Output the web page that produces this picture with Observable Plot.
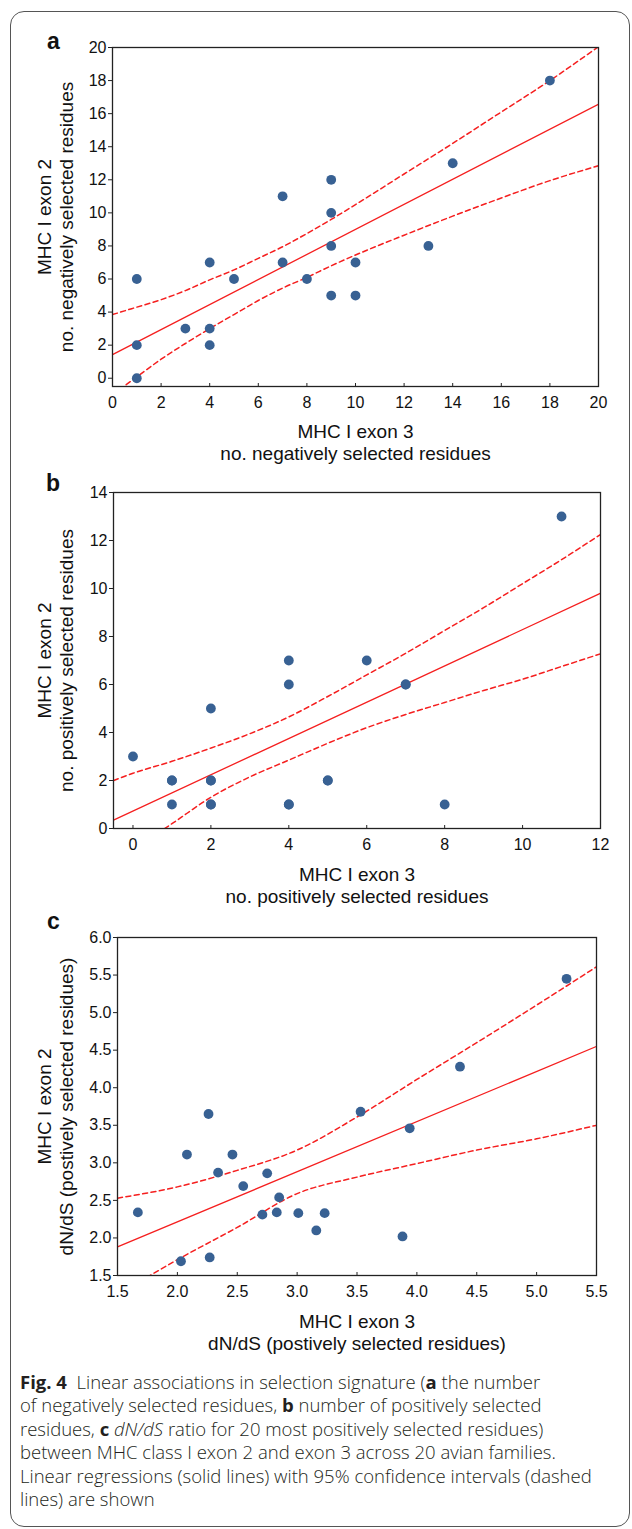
<!DOCTYPE html>
<html><head><meta charset="utf-8">
<script src="https://cdn.jsdelivr.net/npm/d3@7"></script>
<script src="https://cdn.jsdelivr.net/npm/@observablehq/plot@0.6"></script>
<style>
body{margin:0;background:#fff;}
#page{position:relative;width:632px;height:1529px;overflow:hidden;font-family:"Liberation Sans",Arial,sans-serif;background:#fff;}
#border{position:absolute;left:10px;top:11px;width:620px;height:1516px;box-sizing:border-box;border:1.3px solid #555;border-radius:14px;}
.panel{position:absolute;left:0;}
.letter{position:absolute;font-weight:bold;font-size:23px;line-height:1;color:#111;}
#caption{position:absolute;left:20px;top:1370px;font-family:"Open Sans",sans-serif;font-weight:300;font-size:18.5px;line-height:23.4px;color:#231f20;white-space:nowrap;}
#caption b{font-weight:700;}
</style></head><body>
<div id="page">
<div id="border"></div>
<div class="letter" style="left:47px;top:30px">a</div>
<div class="letter" style="left:46px;top:472px">b</div>
<div class="letter" style="left:47px;top:910px">c</div>
<div id="panelA" class="panel" style="top:0px"></div>
<div id="panelB" class="panel" style="top:445px"></div>
<div id="panelC" class="panel" style="top:890px"></div>
<div id="caption"><b>Fig. 4</b>&nbsp; Linear associations in selection signature (<b>a</b> the number<br>of negatively selected residues, <b>b</b> number of positively selected<br>residues, <b>c</b> <i>dN/dS</i> ratio for 20 most positively selected residues)<br>between MHC class I exon 2 and exon 3 across 20 avian families.<br>Linear regressions (solid lines) with 95% confidence intervals (dashed<br>lines) are shown</div>
</div>
<script>
// ---------- Panel a: negatively selected residues ----------
const aExon3 = [1, 1, 1, 3, 4, 4, 4, 5, 7, 7, 8, 9, 9, 9, 9, 10, 10, 13, 14, 18];
const aExon2 = [0, 2, 6, 3, 3, 2, 7, 6, 7, 11, 6, 12, 10, 8, 5, 7, 5, 8, 13, 18];
const aFitX = [0, 20];
const aFitY = [1.43, 16.57];
const aBandX = [0, 1, 2, 3, 4, 5, 6, 7, 8, 9, 10, 12, 14, 16, 18, 20];
const aUpper = [3.85, 4.3, 4.75, 5.3, 5.95, 6.55, 7.25, 7.95, 8.75, 9.6, 10.5, 12.35, 14.2, 16.1, 18.0, 20.05];
const aLower = [-1.0, 0.08, 1.15, 2.1, 3.0, 3.85, 4.7, 5.45, 6.1, 6.8, 7.45, 8.65, 9.8, 10.9, 11.95, 12.85];
const aXTicks = [0, 2, 4, 6, 8, 10, 12, 14, 16, 18, 20];
const aYTicks = [0, 2, 4, 6, 8, 10, 12, 14, 16, 18, 20];

// ---------- Panel b: positively selected residues ----------
const bExon3 = [0, 1, 1, 1, 2, 2, 2, 2, 2, 4, 4, 4, 4, 5, 5, 6, 7, 7, 8, 11];
const bExon2 = [3, 2, 2, 1, 2, 2, 1, 1, 5, 7, 6, 1, 1, 2, 2, 7, 6, 6, 1, 13];
const bFitX = [-0.5, 12];
const bFitY = [0.35, 9.8];
const bBandX = [-0.5, 0, 1, 2, 3, 4, 5, 6, 7, 8, 9, 10, 11, 12];
const bUpper = [2.0, 2.3, 2.8, 3.35, 3.95, 4.65, 5.5, 6.4, 7.3, 8.25, 9.2, 10.2, 11.2, 12.25];
const bLower = [-1.3, -0.85, 0.2, 1.3, 2.15, 2.85, 3.55, 4.2, 4.75, 5.25, 5.75, 6.22, 6.75, 7.28];
const bXTicks = [0, 2, 4, 6, 8, 10, 12];
const bYTicks = [0, 2, 4, 6, 8, 10, 12, 14];

// ---------- Panel c: dN/dS ----------
const cExon3 = [1.67, 2.03, 2.08, 2.26, 2.27, 2.34, 2.46, 2.55, 2.71, 2.75, 2.83, 2.85, 3.01, 3.16, 3.23, 3.53, 3.88, 3.94, 4.36, 5.25];
const cExon2 = [2.34, 1.69, 3.11, 3.65, 1.74, 2.87, 3.11, 2.69, 2.31, 2.86, 2.34, 2.54, 2.33, 2.10, 2.33, 3.68, 2.02, 3.46, 4.28, 5.45];
const cFitX = [1.5, 5.5];
const cFitY = [1.88, 4.55];
const cBandX = [1.5, 2.0, 2.5, 3.0, 3.5, 4.0, 4.5, 5.0, 5.5];
const cUpper = [2.53, 2.68, 2.9, 3.17, 3.61, 4.11, 4.6, 5.1, 5.61];
const cLower = [1.24, 1.71, 2.14, 2.59, 2.81, 2.99, 3.17, 3.32, 3.5];
const cXTicks = [1.5, 2.0, 2.5, 3.0, 3.5, 4.0, 4.5, 5.0, 5.5];
const cYTicks = [1.5, 2.0, 2.5, 3.0, 3.5, 4.0, 4.5, 5.0, 5.5, 6.0];

const RED = "#f51f1f";
const BLUE = "#386193";
const FONT = "Liberation Sans, Arial, sans-serif";

function panel(o) {
  const pts = o.px.map((x, i) => ({x, y: o.py[i]}));
  const fit = o.fx.map((x, i) => ({x, y: o.fy[i]}));
  const band = o.bx.map((x, i) => ({x, u: o.bu[i], l: o.bl[i]}));
  return Plot.plot({
    width: 632,
    height: o.height,
    marginLeft: o.ml, marginRight: o.mr, marginTop: o.mt, marginBottom: o.mb,
    style: {fontFamily: FONT, fontSize: "16px", color: "#111", background: "transparent", overflow: "visible"},
    x: {domain: o.xd, ticks: o.xt, tickFormat: o.fmt},
    y: {domain: o.yd, ticks: o.yt, tickFormat: o.fmt},
    marks: [
      Plot.line(fit, {x: "x", y: "y", stroke: RED, strokeWidth: 1.3, clip: true}),
      Plot.line(band, {x: "x", y: "u", stroke: RED, strokeWidth: 1.5, strokeDasharray: "5,3.5", curve: "monotone-x", clip: true}),
      Plot.line(band, {x: "x", y: "l", stroke: RED, strokeWidth: 1.5, strokeDasharray: "5,3.5", curve: "monotone-x", clip: true}),
      Plot.dot(pts, {x: "x", y: "y", r: 4.9, fill: BLUE, stroke: "none"}),
      Plot.frame({stroke: "#222", strokeWidth: 1.3}),
      Plot.axisX({ticks: o.xt, tickFormat: o.fmt, tickSize: -3, tickPadding: 13, fontSize: 16, label: null, stroke: "#222"}),
      Plot.axisY({ticks: o.yt, tickFormat: o.fmt, tickSize: 4, tickPadding: 2, fontSize: 16, label: null, stroke: "#222"}),
      Plot.text([o.xlabel], {frameAnchor: "bottom", dy: o.xdy, lineAnchor: "middle", textAnchor: "middle", fontSize: 19, lineHeight: 1.16, fill: "#111"}),
      Plot.text([o.ylabel], {frameAnchor: "left", dx: o.ydx, rotate: -90, lineAnchor: "middle", textAnchor: "middle", fontSize: 19, lineHeight: 1.16, fill: "#111"})
    ]
  });
}

const f1 = d => d3.format(".1f")(d);

document.getElementById("panelA").append(panel({
  px: aExon3, py: aExon2, fx: aFitX, fy: aFitY, bx: aBandX, bu: aUpper, bl: aLower,
  xd: [0, 20], yd: [-0.5, 20], xt: aXTicks, yt: aYTicks, fmt: d => String(d),
  height: 470, ml: 112, mr: 34, mt: 47, mb: 84, xdy: 55, ydx: -58,
  xlabel: "MHC I exon 3\nno. negatively selected residues",
  ylabel: "MHC I exon 2\nno. negatively selected residues"
}));

document.getElementById("panelB").append(panel({
  px: bExon3, py: bExon2, fx: bFitX, fy: bFitY, bx: bBandX, bu: bUpper, bl: bLower,
  xd: [-0.5, 12], yd: [0, 14], xt: bXTicks, yt: bYTicks, fmt: d => String(d),
  height: 460, ml: 113, mr: 32, mt: 47, mb: 77, xdy: 56, ydx: -59,
  xlabel: "MHC I exon 3\nno. positively selected residues",
  ylabel: "MHC I exon 2\nno. positively selected residues"
}));

document.getElementById("panelC").append(panel({
  px: cExon3, py: cExon2, fx: cFitX, fy: cFitY, bx: cBandX, bu: cUpper, bl: cLower,
  xd: [1.5, 5.5], yd: [1.5, 6.0], xt: cXTicks, yt: cYTicks, fmt: f1,
  height: 470, ml: 117, mr: 36, mt: 47, mb: 85, xdy: 56, ydx: -63,
  xlabel: "MHC I exon 3\ndN/dS (postively selected residues)",
  ylabel: "MHC I exon 2\ndN/dS (postively selected residues)"
}));
</script>
</body></html>
